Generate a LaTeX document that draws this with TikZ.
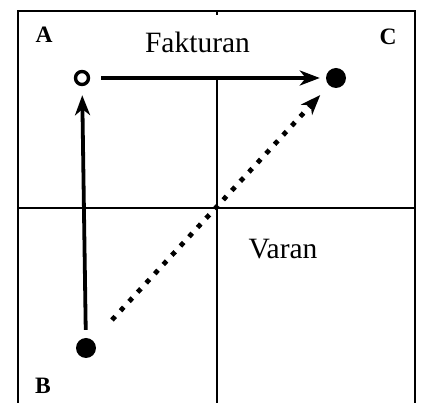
\documentclass[tikz,border=0pt]{standalone}
\usepackage{fontspec}
\setmainfont{Liberation Serif}
\usetikzlibrary{arrows.meta}
\begin{document}
\begin{tikzpicture}[x=1pt,y=-1pt,
  frame/.style={line width=2.2pt},
  midline/.style={line width=1.6pt},
  midvline/.style={line width=2.4pt},
  opendot/.style={circle,draw,line width=3.4pt,minimum size=13pt,inner sep=0pt,fill=white},
  fulldot/.style={circle,fill,minimum size=20pt,inner sep=0pt},
  flow/.style={line width=3.8pt,-{Stealth[length=20pt,width=15pt,inset=6pt]}},
  dotflow/.style={line width=4.8pt,dash pattern=on 4.8pt off 7.8pt,-{Stealth[length=20pt,width=15pt,inset=6pt]}},
  corner/.style={font=\fontsize{23.5}{25}\selectfont\bfseries,anchor=base,inner sep=0pt},
  word/.style={font=\fontsize{29.5}{31}\selectfont,anchor=base,inner sep=0pt}]
\useasboundingbox (0,0) rectangle (424,403);
% frame and quadrant lines
\draw[frame] (18,403) -- (18,11) -- (415,11) -- (415,403);
\draw[midline] (18,208) -- (415,208);
\draw[midvline] (217,11) -- (217,15);
\draw[midvline] (217,78) -- (217,403);
% points
\node[opendot] (A) at (82,78) {};
\node[fulldot] (B) at (86,348) {};
\node[fulldot] (C) at (336,78) {};
% connectors
\draw[flow,shorten <=11pt,shorten >=6pt] (A) -- (C);
\draw[flow,shorten <=8pt,shorten >=9pt] (B) -- (A);
\draw[dotflow,shorten <=28pt,shorten >=13pt] (B) -- (C);
% labels
\node[corner] (la) at (44,43) {A};
\node[corner] (lc) at (388,45) {C};
\node[corner] (lb) at (43,394) {B};
\node[word] (fak) at (197.5,53) {Fakturan};
\node[word] (var) at (283,259) {Varan};
\end{tikzpicture}
\end{document}
